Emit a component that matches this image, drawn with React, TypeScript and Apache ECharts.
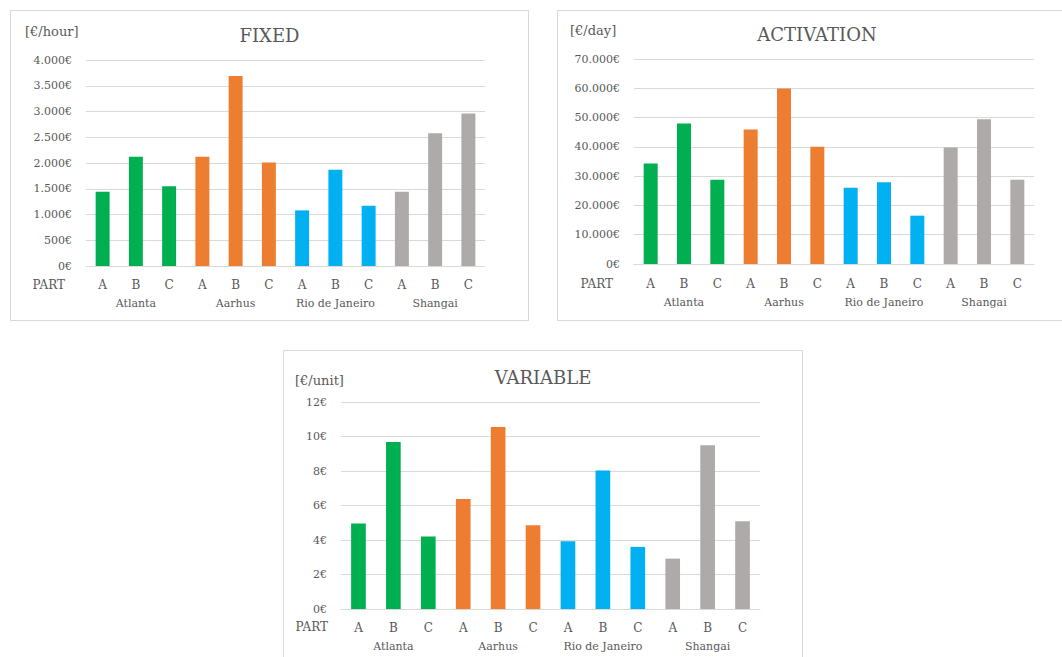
import React, { useEffect, useRef } from "react";
import * as echarts from "echarts";

// Category structure: every city has parts A, B and C
const cities = ["Atlanta", "Aarhus", "Rio de Janeiro", "Shangai"];
const parts = ["A", "B", "C"];
const cityColors = ["#00B050", "#ED7D31", "#00B0F0", "#AEAAAA"];

// Costs per city (Atlanta, Aarhus, Rio de Janeiro, Shangai), parts A, B, C in order
const fixedCost = [1440, 2120, 1550, 2120, 3690, 2010, 1080, 1870, 1170, 1440, 2580, 2960];
const activationCost = [34300, 48000, 28800, 45900, 59900, 40000, 26000, 27900, 16500, 39800, 49400, 28800];
const variableCost = [4.95, 9.68, 4.2, 6.37, 10.55, 4.86, 3.93, 8.03, 3.6, 2.92, 9.5, 5.09];

// Y-axis tick values
const fixedTicks = [0, 500, 1000, 1500, 2000, 2500, 3000, 3500, 4000];
const activationTicks = [0, 10000, 20000, 30000, 40000, 50000, 60000, 70000];
const variableTicks = [0, 2, 4, 6, 8, 10, 12];

const FONT = "'DejaVu Serif', 'Liberation Serif', serif";
const TEXT = "#595959";
const GRID_LINE = "#d9d9d9";

const euro = (v: number) =>
  String(v).replace(/\B(?=(\d{3})+(?!\d))/g, ".") + "€";

type PanelSpec = {
  title: string;
  unit: string;
  values: number[];
  ticks: number[];
  box: { left: number; top: number; width: number; height: number };
  grid: { left: number; right: number; top: number; bottom: number };
  titleTop: number;
  unitPos: { left: number; top: number };
  partPos: { x: number; y: number };
  labelMargin: number;
  cityMargin: number;
};

const panels: PanelSpec[] = [
  {
    title: "FIXED",
    unit: "[€/hour]",
    values: fixedCost,
    ticks: fixedTicks,
    box: { left: 10, top: 10, width: 519, height: 311 },
    grid: { left: 75, right: 43, top: 49, bottom: 54 },
    titleTop: 15,
    unitPos: { left: 14, top: 14 },
    partPos: { x: 54, y: 274 },
    labelMargin: 13,
    cityMargin: 32,
  },
  {
    title: "ACTIVATION",
    unit: "[€/day]",
    values: activationCost,
    ticks: activationTicks,
    box: { left: 557, top: 10, width: 520, height: 311 },
    grid: { left: 76, right: 42, top: 48, bottom: 56 },
    titleTop: 14,
    unitPos: { left: 12, top: 13 },
    partPos: { x: 55, y: 273 },
    labelMargin: 14,
    cityMargin: 33,
  },
  {
    title: "VARIABLE",
    unit: "[€/unit]",
    values: variableCost,
    ticks: variableTicks,
    box: { left: 283, top: 350, width: 520, height: 311 },
    grid: { left: 57, right: 42, top: 51, bottom: 51 },
    titleTop: 17,
    unitPos: { left: 11, top: 23 },
    partPos: { x: 44, y: 276 },
    labelMargin: 13,
    cityMargin: 32,
  },
];

function buildOption(p: PanelSpec): echarts.EChartsOption {
  const categories = cities.flatMap(() => parts);
  return {
    animation: false,
    backgroundColor: "#ffffff",
    title: [
      {
        text: p.title,
        left: "center",
        top: p.titleTop,
        padding: 0,
        textStyle: { fontFamily: FONT, fontSize: 18, fontWeight: "normal", color: TEXT },
      },
      {
        text: p.unit,
        left: p.unitPos.left,
        top: p.unitPos.top,
        padding: 0,
        textStyle: { fontFamily: FONT, fontSize: 13, fontWeight: "normal", color: TEXT },
      },
    ],
    grid: { ...p.grid, containLabel: false },
    xAxis: [
      {
        type: "category",
        data: categories,
        position: "bottom",
        axisLine: { show: true, lineStyle: { color: GRID_LINE, width: 1 } },
        axisTick: { show: false },
        axisLabel: {
          margin: p.labelMargin,
          color: TEXT,
          fontFamily: FONT,
          fontSize: 12,
          interval: 0,
        },
      },
      {
        type: "category",
        data: cities,
        position: "bottom",
        axisLine: { show: false },
        axisTick: { show: false },
        splitLine: { show: false },
        axisLabel: {
          margin: p.cityMargin,
          color: TEXT,
          fontFamily: FONT,
          fontSize: 11,
          interval: 0,
        },
      },
    ],
    yAxis: {
      type: "value",
      min: p.ticks[0],
      max: p.ticks[p.ticks.length - 1],
      interval: p.ticks[1] - p.ticks[0],
      axisLine: { show: false },
      axisTick: { show: false },
      splitLine: { lineStyle: { color: GRID_LINE, width: 1 } },
      axisLabel: {
        margin: 14,
        color: TEXT,
        fontFamily: FONT,
        fontSize: 11,
        formatter: (v: number) => euro(v),
      },
    },
    series: [
      {
        type: "bar",
        xAxisIndex: 0,
        yAxisIndex: 0,
        barWidth: "42%",
        data: p.values.map((v, i) => ({
          value: v,
          itemStyle: { color: cityColors[Math.floor(i / parts.length)] },
        })),
      },
    ],
    graphic: [
      {
        type: "text",
        x: p.partPos.x,
        y: p.partPos.y,
        style: {
          text: "PART",
          fill: TEXT,
          fontFamily: FONT,
          fontSize: 12,
          align: "right",
          verticalAlign: "middle",
        },
      },
    ],
  };
}

function Panel({ spec }: { spec: PanelSpec }) {
  const ref = useRef<HTMLDivElement>(null);
  useEffect(() => {
    if (!ref.current) return;
    const chart = echarts.init(ref.current, null, { renderer: "svg" });
    chart.setOption(buildOption(spec));
    return () => chart.dispose();
  }, [spec]);
  return (
    <div
      style={{
        position: "absolute",
        left: spec.box.left,
        top: spec.box.top,
        width: spec.box.width,
        height: spec.box.height,
        border: `1px solid ${GRID_LINE}`,
        boxSizing: "border-box",
        background: "#ffffff",
      }}
    >
      <div ref={ref} style={{ width: "100%", height: "100%" }} />
    </div>
  );
}

export default function App() {
  return (
    <div
      style={{
        position: "fixed",
        left: 0,
        top: 0,
        width: 1062,
        height: 657,
        overflow: "hidden",
        background: "#ffffff",
      }}
    >
      {panels.map((p) => (
        <Panel key={p.title} spec={p} />
      ))}
    </div>
  );
}
